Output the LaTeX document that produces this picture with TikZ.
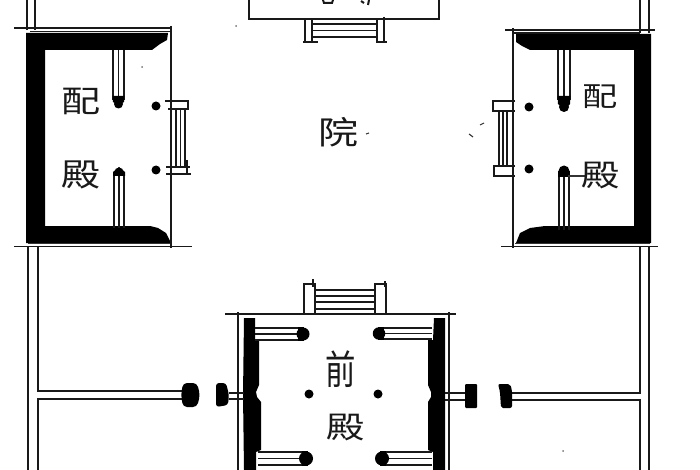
\documentclass[tikz,border=0pt]{standalone}
\usepackage{graphicx}
\usepackage{fontspec}
\newfontfamily\cjk{Noto Sans CJK SC}
\newcommand\glyphbox[3]{\scalebox{#1}[#2]{#3}}
\tikzset{
 x=1pt,y=-1pt,
 ln/.style={line width=1.7pt,black!90},
 thin ln/.style={line width=1.1pt,black!80},
 solidw/.style={fill=black,draw=none},
 lbl/.style={font=\cjk\fontsize{32}{32}\selectfont,inner sep=0pt,text=black!90},
 dotp/.style={circle,fill=black,inner sep=0pt,minimum size=9pt},
 speck/.style={circle,fill=black!55,inner sep=0pt,minimum size=2pt},
}
\begin{document}
\begin{tikzpicture}
\useasboundingbox (0,0) rectangle (700,470);
% outer walls
\draw[ln] (27,0)--(27,30) (35,0)--(35,30);
\draw[ln] (28,246)--(28,470) (38,246)--(38,391)--(188,391) (38,470)--(38,399)--(188,399);
\draw[ln] (640,0)--(640,33) (649,0)--(649,33);
\draw[ln] (640,246)--(640,393)--(505,393) (640,470)--(640,400)--(505,400) (649,246)--(649,470);
% left hall
\fill[solidw] (26,33)--(168,33)--(167,40)--(160,44)--(152,50)--(45,50)--(45,226)--(150,226)--(158,228)--(166,233)--(171,243)--(26,243)--cycle;
\draw[ln] (14,28)--(171,28) (30,31.5)--(170,31.5) (14,246.5)--(192,246.5) (171,26)--(171,248);
\draw[thin ln] (28,243.5)--(170,243.5);
\draw[ln] (113,50)--(113,100) (124,50)--(124,100) (118.5,50)--(118.5,100);
\fill (112.5,96)--(124.5,96)--(124,102)--(118.5,105)--(113,102)--cycle;
\node[circle,fill=black,inner sep=0pt,minimum size=9pt] (tl1) at (118.5,104) {};
\draw[ln] (114,228)--(114,174) (124,228)--(124,174) (119,228)--(119,174);
\fill (113,176)--(125,176)--(125,172)--(119,167)--(113,172)--cycle;
\node[circle,fill=black,inner sep=0pt,minimum size=9pt] (tl2) at (119,172) {};
\node[dotp] (dl1) at (156,106) {};
\node[dotp] (dl2) at (156,170) {};
\draw[ln] (165,101)--(188,101)--(188,109)--(168,109) (176,109)--(176,167) (185,109)--(185,167) (180.5,109)--(180.5,167) (166,167)--(190,167) (166,174)--(191,174) (187,160)--(187,174);
\node[lbl] (lpei) at (81,101) {\glyphbox{1.22}{0.95}{配}};
\node[lbl] (ldian) at (81,175) {\glyphbox{1.22}{1}{殿}};
% right hall
\fill[solidw] (516,34)--(651,34)--(651,243)--(516,243)--(520,233)--(530,228)--(545,226)--(634,226)--(634,50)--(530,50)--(522,46)--(516,42)--cycle;
\draw[ln] (505,30)--(655,30) (513,33)--(640,33) (501,246.5)--(658,246.5) (513,28)--(513,248);
\draw[thin ln] (515,243.5)--(650,243.5);
\draw[ln] (558,50)--(558,100) (570,50)--(570,100) (564,50)--(564,100);
\fill (557.5,96)--(570.5,96)--(570,104)--(564,110)--(558,104)--cycle;
\node[circle,fill=black,inner sep=0pt,minimum size=10pt] (tr1) at (564,107) {};
\draw[ln] (559,230)--(559,175) (569,230)--(569,175) (564,230)--(564,175);
\fill (558.2,177)--(569.8,177)--(569.8,171)--(558.2,171)--cycle;
\node[circle,fill=black,inner sep=0pt,minimum size=11pt] (tr2) at (564,171) {};
\draw[thin ln] (568,176)--(585,176);
\node[dotp] (dr1) at (529,107) {};
\node[dotp] (dr2) at (529,169) {};
\draw[ln] (515,101)--(493,101)--(493,111)--(515,111) (499,111)--(499,167) (507,111)--(507,167) (503,111)--(503,167) (515,166)--(494,166)--(494,176)--(515,176);
\node[lbl] (rpei) at (600,97) {\glyphbox{1.1}{0.85}{配}};
\node[lbl] (rdian) at (601,176) {\glyphbox{1.2}{0.95}{殿}};
% top hall and steps
\draw[ln] (249,0)--(249,19)--(439,19)--(439,0);
\draw[ln] (305,19)--(305,42) (312,19)--(312,42) (303,42)--(318,42) (377,19)--(377,42) (384,17)--(384,42) (376,42)--(387,42);
\draw[ln] (312,24)--(377,24) (312,30.5)--(377,30.5) (312,37)--(377,37);
% cut-off characters at the top edge
\draw[line width=2pt,black!90] (323,0)--(324,3)--(332,3)--(333,0) (361,1)--(364,3) (369,0)--(368,5);
% front hall
\draw[ln] (225,314)--(456,314) (238,312)--(238,470) (449,312)--(449,470);
\fill[solidw] (244,318)--(255,318)--(255,340)--(259,340)--(259,385)--(256,392)--(257,397)--(261,402)--(261,450)--(256,452)--(256,470)--(244,470)--(243,395)--cycle;
\fill[solidw] (434,318)--(445,318)--(445,470)--(433,470)--(433,452)--(428,450)--(428,402)--(431,397)--(431,392)--(428,385)--(428,340)--(433,340)--cycle;
\draw[ln] (255,328)--(302,328) (255,340)--(302,340) (255,334)--(304,334);
\fill (298,327.2)--(304,327.2)--(304,340.8)--(298,340.8)--cycle;
\node[circle,fill=black,inner sep=0pt,minimum size=13pt] (tf1) at (303,334) {};
\draw[ln] (258,452)--(306,452) (258,465)--(306,465) (258,458.5)--(306,458.5);
\fill (302,451.2)--(308,451.2)--(308,465.8)--(302,465.8)--cycle;
\node[circle,fill=black,inner sep=0pt,minimum size=14pt] (tf2) at (306,458.5) {};
\draw[ln] (432,328)--(380,328) (432,339)--(380,339) (432,333.5)--(380,333.5);
\fill (378,327.2)--(384,327.2)--(384,339.8)--(378,339.8)--cycle;
\node[circle,fill=black,inner sep=0pt,minimum size=12.5pt] (tf3) at (379,333.5) {};
\draw[ln] (432,452)--(382,452) (432,465)--(382,465) (432,458.5)--(382,458.5);
\fill (380,451.2)--(386,451.2)--(386,465.8)--(380,465.8)--cycle;
\node[circle,fill=black,inner sep=0pt,minimum size=14pt] (tf4) at (382,458.5) {};
\node[dotp] (df1) at (309,394) {};
\node[dotp] (df2) at (378,394) {};
\draw[ln] (304,314)--(304,284)--(315,284)--(315,314) (313,279)--(313,287) (375,314)--(375,284)--(386,284)--(386,314) (385,281)--(385,287);
\draw[ln] (315,290)--(375,290) (315,296)--(375,296) (315,302)--(375,302) (315,309)--(375,309);
\node[lbl] (fqian) at (341,369) {\glyphbox{0.95}{1.25}{前}};
\node[lbl] (fdian) at (346,428) {\glyphbox{1.2}{0.95}{殿}};
% court label
\node[lbl] (yuan) at (338,132) {\glyphbox{1.25}{1}{院}};
% gate stubs and piers
\fill[rounded corners=4pt] (183,383)--(197,383)--(200,395)--(197,407)--(183,407)--(181,395)--cycle;
\fill[rounded corners=3pt] (216,383)--(226,383)--(229,395)--(228,405)--(216,407)--cycle;
\draw[ln] (229,393)--(244,393) (229,399)--(244,399);
\fill[rounded corners=1pt] (465,384)--(477,384)--(477,408)--(465,408)--cycle;
\fill[rounded corners=2pt] (498,384)--(510,384)--(512,390)--(512,408)--(501,408)--(500,392)--cycle;
\draw[ln] (445,393)--(465,393) (445,400)--(465,400);
% marks on the sheet
\node[speck] (s1) at (142,67) {};
\node[speck] (s2) at (236,26) {};
\node[speck] (s3) at (563,451) {};
\draw[thin ln] (469,134)--(473,137) (480,125)--(484,123) (366,134)--(369,133);
\end{tikzpicture}
\end{document}
